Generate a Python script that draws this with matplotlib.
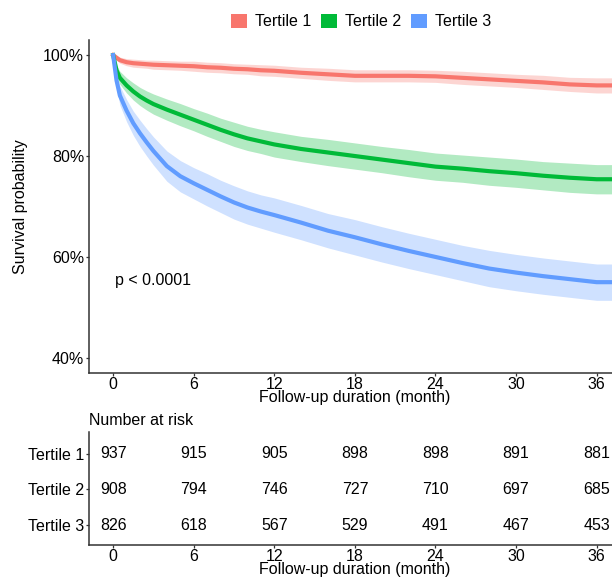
import matplotlib
matplotlib.use('Agg')
import matplotlib.pyplot as plt
from matplotlib.patches import Patch

plt.rcParams['font.family'] = ['Liberation Sans', 'DejaVu Sans']
plt.rcParams['font.size'] = 11.5

# ---- data ----
groups = ['Tertile 1', 'Tertile 2', 'Tertile 3']
colors = ['#F8766D', '#00BA38', '#619CFF']

months = [0, 0.25, 0.5, 1, 1.5, 2, 2.5, 3, 4, 5, 6, 7, 8, 9, 10, 11, 12,
          14, 16, 18, 20, 22, 24, 26, 28, 30, 32, 34, 36, 37.8]

surv_t1 = [100, 99.5, 99.0, 98.6, 98.4, 98.3, 98.2, 98.1, 98.0, 97.9, 97.8,
           97.6, 97.5, 97.3, 97.2, 97.0, 96.9, 96.5, 96.2, 95.9, 95.9, 95.9,
           95.8, 95.5, 95.2, 94.9, 94.6, 94.2, 94.0, 94.0]
surv_t2 = [100, 97.0, 95.5, 94.0, 92.8, 91.8, 91.0, 90.3, 89.2, 88.2, 87.2,
           86.2, 85.2, 84.3, 83.5, 82.9, 82.3, 81.4, 80.7, 80.0, 79.3, 78.6,
           77.9, 77.5, 77.0, 76.6, 76.1, 75.7, 75.4, 75.4]
surv_t3 = [100, 95.0, 92.0, 89.0, 86.5, 84.5, 82.7, 81.0, 78.0, 76.0, 74.6,
           73.3, 72.0, 70.8, 69.8, 69.0, 68.3, 66.8, 65.2, 63.9, 62.5, 61.2,
           60.0, 58.8, 57.7, 56.9, 56.2, 55.6, 55.0, 55.0]

# confidence band half-widths (percentage points)
ci_t1 = [0, 0.4, 0.6, 0.7, 0.8, 0.8, 0.8, 0.9, 0.9, 0.9, 1.0, 1.0, 1.0, 1.0,
         1.0, 1.1, 1.1, 1.1, 1.2, 1.2, 1.2, 1.2, 1.2, 1.3, 1.3, 1.3, 1.4,
         1.4, 1.5, 1.5]
ci_t2 = [0, 1.0, 1.3, 1.5, 1.7, 1.8, 1.9, 2.0, 2.1, 2.2, 2.2, 2.3, 2.3, 2.4,
         2.4, 2.4, 2.5, 2.5, 2.6, 2.6, 2.6, 2.7, 2.7, 2.7, 2.8, 2.8, 2.8,
         2.9, 2.9, 2.9]
ci_t3 = [0, 1.5, 1.9, 2.2, 2.4, 2.6, 2.7, 2.8, 3.0, 3.1, 3.1, 3.2, 3.2, 3.3,
         3.3, 3.3, 3.4, 3.4, 3.4, 3.5, 3.5, 3.5, 3.5, 3.5, 3.6, 3.6, 3.6,
         3.6, 3.6, 3.6]

risk_times = [0, 6, 12, 18, 24, 30, 36]
risk_t1 = [937, 915, 905, 898, 898, 891, 881]
risk_t2 = [908, 794, 746, 727, 710, 697, 685]
risk_t3 = [826, 618, 567, 529, 491, 467, 453]

p_label = 'p < 0.0001'

# ---- figure ----
fig = plt.figure(figsize=(6.12, 5.78), dpi=100)
ax = fig.add_axes([0.1454, 0.3547, 0.869, 0.5761])
ax_r = fig.add_axes([0.1454, 0.0571, 0.869, 0.1955])

spine_col = '#333333'
for a in (ax, ax_r):
    for s in ('top', 'right'):
        a.spines[s].set_visible(False)
    for s in ('left', 'bottom'):
        a.spines[s].set_color(spine_col)
        a.spines[s].set_linewidth(1.1)
    a.tick_params(colors=spine_col, labelcolor='black', length=2.5,
                  width=0.9, labelsize=11.5, pad=1)
    a.tick_params(axis='x', pad=0.3)
    a.set_xlim(-1.8, 37.8)
    a.set_xticks(risk_times)
    a.set_xlabel('Follow-up duration (month)', fontsize=11.5, labelpad=-1)

surv = [surv_t1, surv_t2, surv_t3]
cis = [ci_t1, ci_t2, ci_t3]
for g, c, s, ci in zip(groups, colors, surv, cis):
    lo = [v - h for v, h in zip(s, ci)]
    hi = [v + h for v, h in zip(s, ci)]
    ax.fill_between(months, lo, hi, color=c, alpha=0.3, lw=0)
    ax.plot(months, s, color=c, lw=3, solid_joinstyle='round')

ax.set_ylim(37, 103)
ax.set_yticks([40, 60, 80, 100])
ax.set_yticklabels(['40%', '60%', '80%', '100%'])
ax.set_ylabel('Survival probability', fontsize=11.5, labelpad=11)
ax.text(0.1, 55.4, p_label, fontsize=11.5, va='center', ha='left')

# risk table
rows = [risk_t1, risk_t2, risk_t3]
ypos = [3, 2, 1]
for r, yy in zip(rows, ypos):
    for t, n in zip(risk_times, r):
        ax_r.text(t, yy, str(n), ha='center', va='center', fontsize=11.5)
ax_r.set_ylim(0.45, 3.6)
ax_r.set_yticks(ypos)
ax_r.set_yticklabels(groups)
fig.text(0.1454, 0.273, 'Number at risk', fontsize=11.5, ha='left', va='center')

handles = [Patch(facecolor=c, edgecolor='none') for c in colors]
fig.legend(handles, groups, loc='center', bbox_to_anchor=(0.59, 0.963),
           ncol=3, frameon=False, fontsize=11.5, handlelength=1.0,
           handleheight=1.0, handletextpad=0.5, columnspacing=0.6)

fig.savefig('out.png', dpi=100)
